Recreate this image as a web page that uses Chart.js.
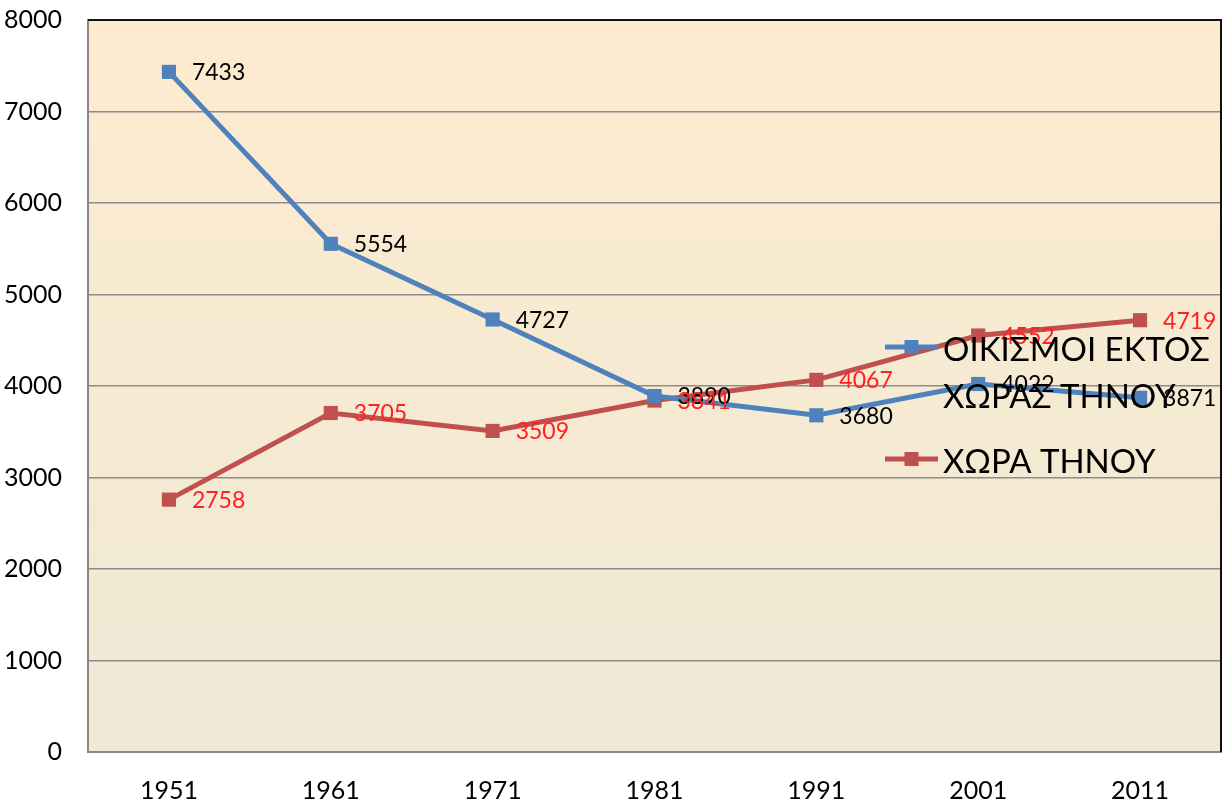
<!DOCTYPE html>
<html>
<head>
<meta charset="utf-8">
<script src="https://cdn.jsdelivr.net/npm/chart.js@4"></script>
<style>
  html, body { margin: 0; padding: 0; background: #fff; }
  #c { display: block; }
</style>
</head>
<body>
<canvas id="c" width="1223" height="803"></canvas>
<script>
const years = ["1951", "1961", "1971", "1981", "1991", "2001", "2011"];
const oikismoi = [7433, 5554, 4727, 3890, 3680, 4022, 3871];
const chora = [2758, 3705, 3509, 3841, 4067, 4552, 4719];
const seriesNames = ["ΟΙΚΙΣΜΟΙ ΕΚΤΟΣ ΧΩΡΑΣ ΤΗΝΟΥ", "ΧΩΡΑ ΤΗΝΟΥ"];
const yTicks = [0, 1000, 2000, 3000, 4000, 5000, 6000, 7000, 8000];

const FONT = "Lato, 'Liberation Sans', sans-serif";
const BLUE = "#4F81BD";
const RED = "#C0504D";

// background gradient + frame
const bgPlugin = {
  id: "bg",
  beforeDraw(chart) {
    const { ctx, chartArea: a } = chart;
    const g = ctx.createLinearGradient(0, a.top, 0, a.bottom);
    g.addColorStop(0, "#FDEBCF");
    g.addColorStop(1, "#EFE9D6");
    ctx.save();
    ctx.fillStyle = g;
    ctx.fillRect(a.left, a.top, a.right - a.left, a.bottom - a.top);
    ctx.restore();
  },
  afterDraw(chart) {
    const { ctx, chartArea: a } = chart;
    ctx.save();
    ctx.strokeStyle = "#111";
    ctx.lineWidth = 2;
    ctx.beginPath();
    ctx.moveTo(a.left, a.top);
    ctx.lineTo(a.right, a.top);
    ctx.lineTo(a.right, a.bottom);
    ctx.stroke();
    ctx.restore();
  }
};

// value labels to the right of each point
const labelPlugin = {
  id: "vlabels",
  afterDatasetsDraw(chart) {
    const { ctx } = chart;
    ctx.save();
    ctx.font = "23px " + FONT;
    ctx.textAlign = "left";
    ctx.textBaseline = "middle";
    chart.data.datasets.forEach((ds, i) => {
      const meta = chart.getDatasetMeta(i);
      ctx.fillStyle = ds.labelColor;
      meta.data.forEach((pt, j) => {
        ctx.fillText(String(ds.data[j]), pt.x + 23, pt.y + 1);
      });
    });
    ctx.restore();
  }
};

// legend drawn inside the plot, overlapping as in the original
const legendPlugin = {
  id: "innerLegend",
  afterDraw(chart) {
    const { ctx } = chart;
    const x0 = 885, x1 = 938, tx = 943;
    const rows = [
      { color: BLUE, y: 347, lines: ["ΟΙΚΙΣΜΟΙ ΕΚΤΟΣ", "ΧΩΡΑΣ ΤΗΝΟΥ"] },
      { color: RED, y: 459, lines: ["ΧΩΡΑ ΤΗΝΟΥ"] }
    ];
    ctx.save();
    ctx.font = "33px " + FONT;
    const w = ctx.measureText(rows[0].lines[0]).width;
    const size = 33 * 267 / w;
    ctx.font = size.toFixed(1) + "px " + FONT;
    ctx.textAlign = "left";
    ctx.textBaseline = "middle";
    rows.forEach(r => {
      ctx.strokeStyle = r.color;
      ctx.lineWidth = 5;
      ctx.beginPath();
      ctx.moveTo(x0, r.y);
      ctx.lineTo(x1, r.y);
      ctx.stroke();
      ctx.fillStyle = r.color;
      ctx.fillRect((x0 + x1) / 2 - 7, r.y - 7, 14, 14);
      ctx.fillStyle = "#000";
      r.lines.forEach((t, k) => ctx.fillText(t, tx, r.y + 3 + k * 47));
    });
    ctx.restore();
  }
};

new Chart(document.getElementById("c"), {
  type: "line",
  data: {
    labels: years,
    datasets: [
      {
        label: seriesNames[0],
        data: oikismoi,
        borderColor: BLUE,
        backgroundColor: BLUE,
        labelColor: "#000",
        borderWidth: 5,
        pointStyle: "rect",
        pointRadius: 10,
        pointBorderWidth: 0,
        tension: 0
      },
      {
        label: seriesNames[1],
        data: chora,
        borderColor: RED,
        backgroundColor: RED,
        labelColor: "#FF2020",
        borderWidth: 5,
        pointStyle: "rect",
        pointRadius: 10,
        pointBorderWidth: 0,
        tension: 0
      }
    ]
  },
  options: {
    responsive: false,
    animation: false,
    layout: { autoPadding: false, padding: { top: 20, right: 2, left: 0, bottom: 0 } },
    plugins: {
      legend: { display: false },
      tooltip: { enabled: false }
    },
    scales: {
      x: {
        offset: true,
        grid: { display: false, drawTicks: false },
        border: { color: "#888", width: 2 },
        ticks: { color: "#000", font: { family: FONT, size: 25 }, padding: 24, maxRotation: 0 },
        afterFit(s) { s.height = 51; s.paddingLeft = 0; s.paddingRight = 0; }
      },
      y: {
        min: 0,
        max: 8000,
        afterBuildTicks(s) { s.ticks = yTicks.map(v => ({ value: v })); },
        grid: { color: "#8C8C8C", lineWidth: 1.5, drawTicks: false },
        border: { color: "#888", width: 2 },
        ticks: { color: "#000", font: { family: FONT, size: 25 }, padding: 26, callback: v => String(v) },
        afterFit(s) { s.width = 88; s.paddingTop = 0; s.paddingBottom = 0; }
      }
    }
  },
  plugins: [bgPlugin, labelPlugin, legendPlugin]
});
</script>
</body>
</html>
